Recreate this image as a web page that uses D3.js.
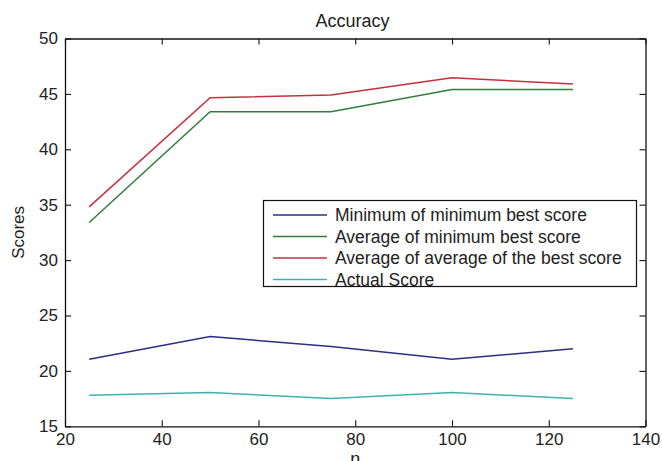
<!DOCTYPE html>
<html><head><meta charset="utf-8">
<script src="https://cdn.jsdelivr.net/npm/d3@7"></script>
<style>
html,body{margin:0;padding:0;background:#fff;}
svg{display:block;font-family:"Liberation Sans",Arial,sans-serif;}
</style></head>
<body>
<svg id="chart" width="662" height="461"></svg>
<script>
const nValues = [25, 50, 75, 100, 125];
const minOfMinBest = [21.05, 23.1, 22.2, 21.05, 22.0];
const avgOfMinBest = [33.4, 43.4, 43.4, 45.4, 45.4];
const avgOfAvgBest = [34.8, 44.65, 44.9, 46.45, 45.9];
const actualScore = [17.8, 18.05, 17.5, 18.05, 17.5];
const seriesNames = ["Minimum of minimum best score", "Average of minimum best score", "Average of average of the best score", "Actual Score"];
const seriesColors = ["#2e2e84", "#2f7f3a", "#c6303e", "#3fb2ae"];
const xTicks = [20, 40, 60, 80, 100, 120, 140];
const yTicks = [15, 20, 25, 30, 35, 40, 45, 50];

const series = [minOfMinBest, avgOfMinBest, avgOfAvgBest, actualScore];
const svg = d3.select("#chart");
const L = 65, R = 645.5, T = 38.5, B = 426.3;
const x = d3.scaleLinear().domain([20, 140]).range([L, R]);
const y = d3.scaleLinear().domain([15, 50]).range([B, T]);
const fs = 17;

// axes with inward ticks
const gx = svg.append("g").attr("transform", `translate(0,${B})`)
  .call(d3.axisBottom(x).tickValues(xTicks).tickSizeInner(-6).tickSizeOuter(0).tickPadding(7));
const gxt = svg.append("g").attr("transform", `translate(0,${T})`)
  .call(d3.axisTop(x).tickValues(xTicks).tickSizeInner(-6).tickSizeOuter(0).tickFormat(""));
const gy = svg.append("g").attr("transform", `translate(${L},0)`)
  .call(d3.axisLeft(y).tickValues(yTicks).tickSizeInner(-6).tickSizeOuter(0).tickPadding(7));
const gyr = svg.append("g").attr("transform", `translate(${R},0)`)
  .call(d3.axisRight(y).tickValues(yTicks).tickSizeInner(-6).tickSizeOuter(0).tickFormat(""));
[gx, gxt, gy, gyr].forEach(g => {
  g.select(".domain").attr("stroke", "#111").attr("stroke-width", 1.3);
  g.selectAll(".tick line").attr("stroke", "#111").attr("stroke-width", 1.1);
  g.selectAll(".tick text").attr("font-size", fs).attr("fill", "#222")
    .attr("font-family", "'Liberation Sans',Arial,sans-serif");
});
gx.selectAll(".tick text").attr("dy", "0.71em");

// lines
const line = d3.line().x((d, i) => x(nValues[i])).y(d => y(d));
series.forEach((s, k) => {
  svg.append("path").datum(s).attr("d", line)
    .attr("fill", "none").attr("stroke", seriesColors[k]).attr("stroke-width", 1.5);
});

// title and labels
svg.append("text").attr("x", 352.5).attr("y", 27).attr("text-anchor", "middle")
  .attr("font-size", 18).attr("fill", "#222").text("Accuracy");
svg.append("text").attr("x", (L + R) / 2).attr("y", 465).attr("text-anchor", "middle")
  .attr("font-size", 18).attr("fill", "#222").text("n");
svg.append("text").attr("transform", `translate(24,${(T + B) / 2}) rotate(-90)`)
  .attr("text-anchor", "middle").attr("font-size", 17).attr("fill", "#222").text("Scores");

// legend
const lg = svg.append("g");
lg.append("rect").attr("x", 263.5).attr("y", 200.5).attr("width", 373).attr("height", 86)
  .attr("fill", "#fff").attr("stroke", "#111").attr("stroke-width", 1.2);
const rowY = [215, 236.5, 258, 279.5];
seriesNames.forEach((nm, k) => {
  lg.append("line").attr("x1", 273).attr("x2", 327).attr("y1", rowY[k]).attr("y2", rowY[k])
    .attr("stroke", seriesColors[k]).attr("stroke-width", 1.5);
  lg.append("text").attr("x", 335).attr("y", rowY[k]).attr("dy", "0.35em")
    .attr("font-size", 17.5).attr("fill", "#222").text(nm);
});
</script>
</body></html>
